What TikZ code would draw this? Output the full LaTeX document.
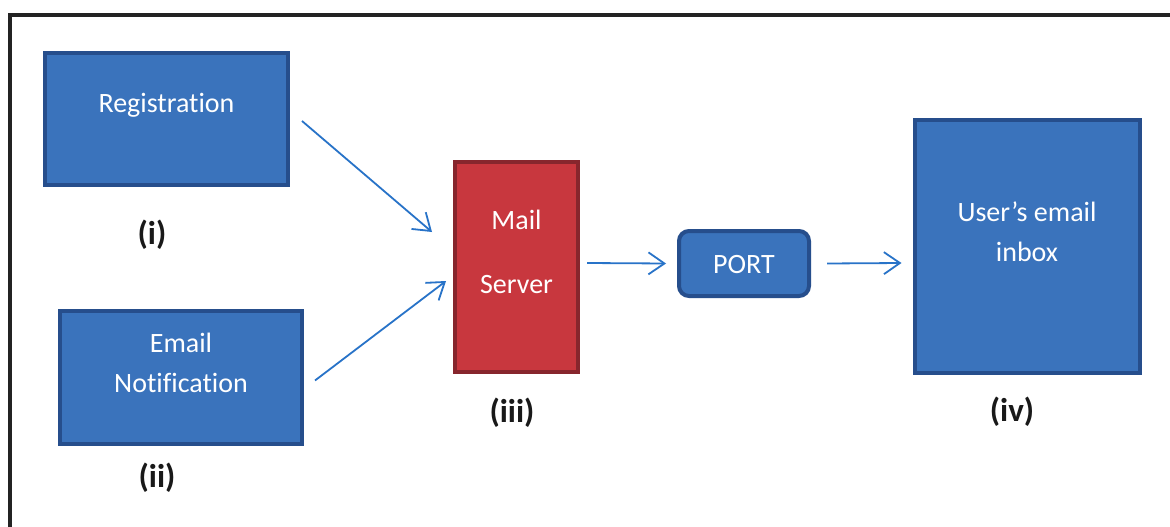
\documentclass[tikz,border=0pt]{standalone}
\usepackage{fontspec}
\setmainfont[Ligatures=NoCommon]{Carlito}
\usetikzlibrary{arrows.meta,calc}
\definecolor{boxblue}{RGB}{58,115,188}
\definecolor{boxblueedge}{RGB}{38,78,140}
\definecolor{boxred}{RGB}{200,55,62}
\definecolor{boxrededge}{RGB}{135,38,45}
\definecolor{arrblue}{RGB}{40,115,200}
\definecolor{framegray}{RGB}{35,35,35}
\tikzset{
  bluebox/.style={draw=boxblueedge, fill=boxblue, line width=4pt, inner sep=0pt},
  redbox/.style={draw=boxrededge, fill=boxred, line width=4pt, inner sep=0pt},
  boxtext/.style={text=white, font=\fontsize{28}{40}\selectfont, align=center, inner sep=0pt},
  numlabel/.style={font=\fontsize{33}{36}\selectfont\bfseries, text=black!90, inner sep=0pt},
  arr/.style={draw=arrblue, line width=1.8pt, -{Straight Barb[length=16pt,width=22pt,line width=1.8pt]}},
}
\begin{document}
\begin{tikzpicture}[x=1pt,y=-1pt]
\useasboundingbox (0,0) rectangle (1170,527);
\fill[white] (0,0) rectangle (1170,527);
% frame
\draw[framegray, line width=4.5pt] (1180,15) -- (10,15) -- (10,540);
% boxes
\node[bluebox, minimum width=243pt, minimum height=132pt] (reg) at (166.5,119) {};
\node[boxtext] (regt) at (166.5,105) {Registration};
\node[numlabel] (li) at (152,235) {(i)};
\node[bluebox, minimum width=242pt, minimum height=133pt] (notif) at (181,377.5) {};
\node[boxtext] (notift) at (181,363) {Email\\Notification};
\node[numlabel] (lii) at (157,478) {(ii)};
\node[redbox, minimum width=123pt, minimum height=210pt] (mail) at (516.5,267) {};
\node[boxtext] (mailt1) at (516.5,220) {Mail};
\node[boxtext] (mailt2) at (516.5,285) {Server};
\node[numlabel] (liii) at (512,413) {(iii)};
\node[bluebox, rounded corners=10pt, minimum width=130pt, minimum height=65pt] (port) at (744,263.5) {};
\node[boxtext] (portt) at (744,265) {PORT};
\node[bluebox, minimum width=225pt, minimum height=253pt] (inbox) at (1027,246.5) {};
\node[boxtext] (inboxt) at (1027,232) {User’s email\\inbox};
\node[numlabel] (liv) at (1012,412) {(iv)};
% arrows
\draw[arr] ([shift={(12,2)}]reg.east) -- ([shift={(-21,-35)}]mail.west);
\draw[arr] ([shift={(11,3)}]notif.east) -- ([shift={(-7,14)}]mail.west);
\draw[arr] ([shift={(7,-4)}]mail.east) -- ([shift={(-11,0)}]port.west);
\draw[arr] ([shift={(16,0)}]port.east) -- ([shift={(-11,16.5)}]inbox.west);
\end{tikzpicture}
\end{document}
